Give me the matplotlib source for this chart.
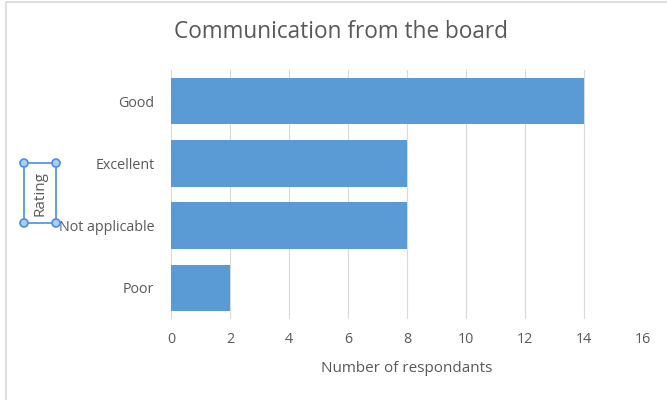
import matplotlib.pyplot as plt
from matplotlib.patches import Rectangle, Circle

# data
ratings = ['Good', 'Excellent', 'Not applicable', 'Poor']
counts = [14, 8, 8, 2]

plt.rcParams['font.family'] = ['Open Sans', 'DejaVu Sans']

fig = plt.figure(figsize=(6.67, 4), dpi=100)
ax = fig.add_axes([0.2564, 0.2025, 0.7076, 0.6225])

pos = list(range(len(ratings)))[::-1]
ax.barh(pos, counts, height=0.75, color='#5b9bd5', zorder=3)

ax.set_xlim(0, 16)
ax.set_ylim(-0.5, 3.5)
ax.set_xticks(range(0, 17, 2))
ax.set_yticks(pos)
ax.set_yticklabels(ratings)
ax.grid(axis='x', color='#d9d9d9', linewidth=0.8, zorder=0)
for s in ax.spines.values():
    s.set_visible(False)
ax.tick_params(length=0, labelsize=10.3, labelcolor='#595959')
ax.tick_params(axis='x', pad=9.5)
ax.tick_params(axis='y', pad=12)
ax.set_xlabel('Number of respondants', fontsize=11, color='#595959', labelpad=10)

fig.text(0.511, 0.92, 'Communication from the board', ha='center', va='center',
         fontsize=16.3, color='#595959')

# chart border (only left and top edges fall inside the image)
fig.patches.append(Rectangle((6 / 667, -0.1), 1.2, 1.1 - 2 / 400 + 0.0, transform=fig.transFigure,
                             fill=False, edgecolor='#d9d9d9', linewidth=1.2))

# selected axis title "Rating"
fig.text(0.06, 0.517, 'Rating', rotation=90, ha='center', va='center',
         fontsize=11, color='#595959')
x0, x1 = 24 / 667, 56 / 667
y0, y1 = 1 - 223 / 400, 1 - 163 / 400
fig.patches.append(Rectangle((x0, y0), x1 - x0, y1 - y0, transform=fig.transFigure,
                             fill=False, edgecolor='#4a90e2', linewidth=1.2))
for cx in (x0, x1):
    for cy in (y0, y1):
        pt = fig.transFigure.transform((cx, cy))
        fig.patches.append(Circle(pt, 4, transform=None, facecolor='#a9cdf3',
                                  edgecolor='#4a90e2', linewidth=1.2, zorder=5))

fig.savefig('out.png', dpi=100)
